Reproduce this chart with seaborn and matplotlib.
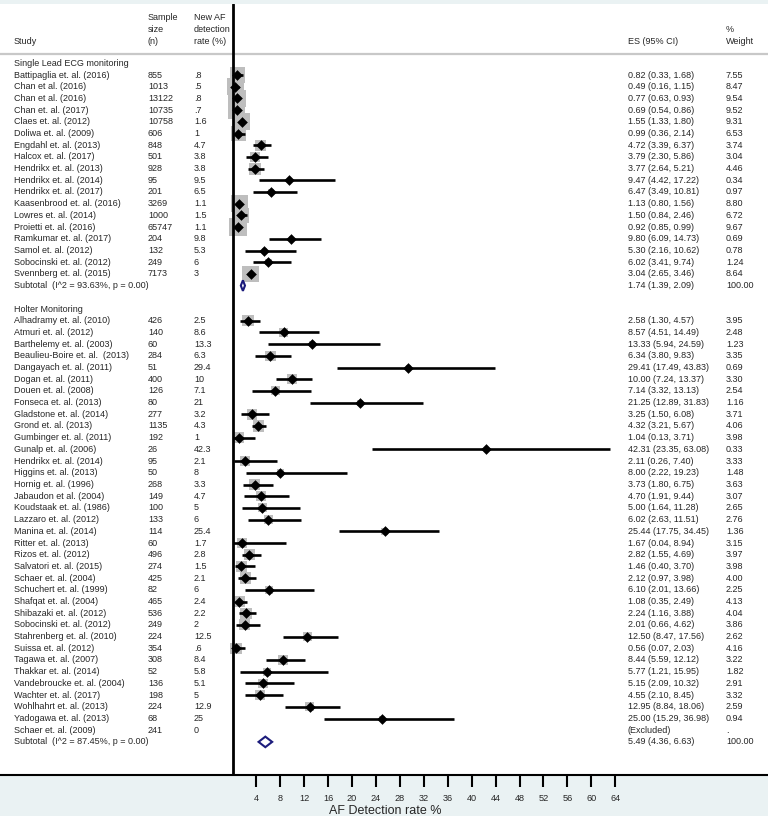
import numpy as np
import pandas as pd
import matplotlib
matplotlib.use("Agg")
import matplotlib.pyplot as plt
import seaborn as sns

# Single lead ECG monitoring
studies1 = ["Battipaglia et. al. (2016)", "Chan et al. (2016)", "Chan et al. (2016)",
            "Chan et. al. (2017)", "Claes et. al. (2012)", "Doliwa et. al. (2009)",
            "Engdahl et. al. (2013)", "Halcox et. al. (2017)", "Hendrikx et. al. (2013)",
            "Hendrikx et. al. (2014)", "Hendrikx et. al. (2017)", "Kaasenbrood et. al. (2016)",
            "Lowres et. al. (2014)", "Proietti et. al. (2016)", "Ramkumar et. al. (2017)",
            "Samol et. al. (2012)", "Sobocinski et. al. (2012)", "Svennberg et. al. (2015)"]
n1 = ["855", "1013", "13122", "10735", "10758", "606", "848", "501", "928", "95", "201",
      "3269", "1000", "65747", "204", "132", "249", "7173"]
rate1 = [".8", ".5", ".8", ".7", "1.6", "1", "4.7", "3.8", "3.8", "9.5", "6.5", "1.1",
         "1.5", "1.1", "9.8", "5.3", "6", "3"]
es1 = [0.82, 0.49, 0.77, 0.69, 1.55, 0.99, 4.72, 3.79, 3.77, 9.47, 6.47, 1.13, 1.50, 0.92,
       9.80, 5.30, 6.02, 3.04]
lo1 = [0.33, 0.16, 0.63, 0.54, 1.33, 0.36, 3.39, 2.30, 2.64, 4.42, 3.49, 0.80, 0.84, 0.85,
       6.09, 2.16, 3.41, 2.65]
hi1 = [1.68, 1.15, 0.93, 0.86, 1.80, 2.14, 6.37, 5.86, 5.21, 17.22, 10.81, 1.56, 2.46, 0.99,
       14.73, 10.62, 9.74, 3.46]
w1 = [7.55, 8.47, 9.54, 9.52, 9.31, 6.53, 3.74, 3.04, 4.46, 0.34, 0.97, 8.80, 6.72, 9.67,
      0.69, 0.78, 1.24, 8.64]
sub1 = (1.74, 1.39, 2.09)
sub1_label = "Subtotal  (I^2 = 93.63%, p = 0.00)"

# Holter monitoring
studies2 = ["Alhadramy et. al. (2010)", "Atmuri et. al. (2012)", "Barthelemy et. al. (2003)",
            "Beaulieu-Boire et. al.  (2013)", "Dangayach et. al. (2011)", "Dogan et. al. (2011)",
            "Douen et. al. (2008)", "Fonseca et. al. (2013)", "Gladstone et. al. (2014)",
            "Grond et. al. (2013)", "Gumbinger et. al. (2011)", "Gunalp et. al. (2006)",
            "Hendrikx et. al. (2014)", "Higgins et. al. (2013)", "Hornig et. al. (1996)",
            "Jabaudon et al. (2004)", "Koudstaak et. al. (1986)", "Lazzaro et. al. (2012)",
            "Manina et. al. (2014)", "Ritter et. al. (2013)", "Rizos et. al. (2012)",
            "Salvatori et. al. (2015)", "Schaer et. al. (2004)", "Schuchert et. al. (1999)",
            "Shafqat et. al. (2004)", "Shibazaki et. al. (2012)", "Sobocinski et. al. (2012)",
            "Stahrenberg et. al. (2010)", "Suissa et. al. (2012)", "Tagawa et. al. (2007)",
            "Thakkar et. al. (2014)", "Vandebroucke et. al. (2004)", "Wachter et. al. (2017)",
            "Wohlhahrt et. al. (2013)", "Yadogawa et. al. (2013)", "Schaer et. al. (2009)"]
n2 = ["426", "140", "60", "284", "51", "400", "126", "80", "277", "1135", "192", "26", "95",
      "50", "268", "149", "100", "133", "114", "60", "496", "274", "425", "82", "465", "536",
      "249", "224", "354", "308", "52", "136", "198", "224", "68", "241"]
rate2 = ["2.5", "8.6", "13.3", "6.3", "29.4", "10", "7.1", "21", "3.2", "4.3", "1", "42.3",
         "2.1", "8", "3.3", "4.7", "5", "6", "25.4", "1.7", "2.8", "1.5", "2.1", "6", "2.4",
         "2.2", "2", "12.5", ".6", "8.4", "5.8", "5.1", "5", "12.9", "25", "0"]
es2 = [2.58, 8.57, 13.33, 6.34, 29.41, 10.00, 7.14, 21.25, 3.25, 4.32, 1.04, 42.31, 2.11,
       8.00, 3.73, 4.70, 5.00, 6.02, 25.44, 1.67, 2.82, 1.46, 2.12, 6.10, 1.08, 2.24, 2.01,
       12.50, 0.56, 8.44, 5.77, 5.15, 4.55, 12.95, 25.00, np.nan]
lo2 = [1.30, 4.51, 5.94, 3.80, 17.49, 7.24, 3.32, 12.89, 1.50, 3.21, 0.13, 23.35, 0.26,
       2.22, 1.80, 1.91, 1.64, 2.63, 17.75, 0.04, 1.55, 0.40, 0.97, 2.01, 0.35, 1.16, 0.66,
       8.47, 0.07, 5.59, 1.21, 2.09, 2.10, 8.84, 15.29, np.nan]
hi2 = [4.57, 14.49, 24.59, 9.83, 43.83, 13.37, 13.13, 31.83, 6.08, 5.67, 3.71, 63.08, 7.40,
       19.23, 6.75, 9.44, 11.28, 11.51, 34.45, 8.94, 4.69, 3.70, 3.98, 13.66, 2.49, 3.88,
       4.62, 17.56, 2.03, 12.12, 15.95, 10.32, 8.45, 18.06, 36.98, np.nan]
w2 = [3.95, 2.48, 1.23, 3.35, 0.69, 3.30, 2.54, 1.16, 3.71, 4.06, 3.98, 0.33, 3.33, 1.48,
      3.63, 3.07, 2.65, 2.76, 1.36, 3.15, 3.97, 3.98, 4.00, 2.25, 4.13, 4.04, 3.86, 2.62,
      4.16, 3.22, 1.82, 2.91, 3.32, 2.59, 0.94, np.nan]
sub2 = (5.49, 4.36, 6.63)
sub2_label = "Subtotal  (I^2 = 87.45%, p = 0.00)"

xticks = list(range(4, 68, 4))

# rows: group header, studies, subtotal, blank, next group...
rows1 = np.arange(len(studies1))
sub1_row = len(studies1)
head2_row = sub1_row + 2
rows2 = head2_row + 1 + np.arange(len(studies2))
sub2_row = rows2[-1] + 1

df = pd.DataFrame({
    "study": studies1 + studies2,
    "n": n1 + n2,
    "rate": rate1 + rate2,
    "es": es1 + es2,
    "lo": lo1 + lo2,
    "hi": hi1 + hi2,
    "w": w1 + w2,
    "row": np.concatenate([rows1, rows2]),
})

sns.set_style("white")
plt.rcParams["font.family"] = ["Liberation Sans", "DejaVu Sans"]

W, H = 768, 816
fig = plt.figure(figsize=(W / 100, H / 100), dpi=100, facecolor="#eaf2f3")
ax_bottom, ax_top = 775, 4
ax = fig.add_axes([0, (H - ax_bottom) / H, 1, (ax_bottom - ax_top) / H])
ax.set_facecolor("white")

# pixel mapping: x0 at 232.5px, 5.98 px per unit; row 0 at 75px, 11.7 px per row
x0, xs = 232.5, 5.98
y0, ys = 75, 11.7
ax.set_xlim(-x0 / xs, (W - x0) / xs)
ax.set_ylim((ax_bottom - y0) / ys, (ax_top - y0) / ys)

pts = df.dropna(subset=["es"])
sns.scatterplot(data=pts, x="es", y="row", size="w", sizes=(0, 165), size_norm=(0, 10),
                marker="s", color="#bebebe", edgecolor="none", legend=False, ax=ax, zorder=2)
ax.hlines(pts["row"], pts["lo"], pts["hi"], color="black", lw=1.9, zorder=3)
sns.scatterplot(data=pts, x="es", y="row", marker="D", s=25, color="black",
                edgecolor="black", legend=False, ax=ax, zorder=4)

# subtotal diamonds
for (est, lo, hi), r in [(sub1, sub1_row), (sub2, sub2_row)]:
    ax.fill([lo, est, hi, est, lo], [r, r - 0.45, r, r + 0.45, r], facecolor="white",
            edgecolor="#1c1c7c", lw=1.5, zorder=4)

ax.axvline(0, color="black", lw=2, zorder=5)
ax.axhline(-1.8, color="#c8c8c8", lw=1.6, clip_on=False)

tr = ax.get_yaxis_transform()
fs = 6.5
cx = dict(study=14 / W, n=148 / W, rate=194 / W, es=628 / W, w=726 / W)

# header
hrow = [(y - y0) / ys for y in (17, 29, 42)]
ax.text(cx["study"], hrow[2], "Study", transform=tr, fontsize=fs, va="center")
for i, t in enumerate(["Sample", "size", "(n)"]):
    ax.text(cx["n"], hrow[i], t, transform=tr, fontsize=fs, va="center")
for i, t in enumerate(["New AF", "detection", "rate (%)"]):
    ax.text(cx["rate"], hrow[i], t, transform=tr, fontsize=fs, va="center")
ax.text(cx["es"], hrow[2], "ES (95% CI)", transform=tr, fontsize=fs, va="center")
ax.text(cx["w"], hrow[1], "%", transform=tr, fontsize=fs, va="center")
ax.text(cx["w"], hrow[2], "Weight", transform=tr, fontsize=fs, va="center")

ax.text(cx["study"], -1, "Single Lead ECG monitoring", transform=tr, fontsize=fs, va="center")
ax.text(cx["study"], head2_row, "Holter Monitoring", transform=tr, fontsize=fs, va="center")

for _, r in df.iterrows():
    ax.text(cx["study"], r["row"], r["study"], transform=tr, fontsize=fs, va="center")
    ax.text(cx["n"], r["row"], r["n"], transform=tr, fontsize=fs, va="center")
    ax.text(cx["rate"], r["row"], r["rate"], transform=tr, fontsize=fs, va="center")
    if np.isnan(r["es"]):
        es_txt, w_txt = "(Excluded)", "."
    else:
        es_txt = f"{r['es']:.2f} ({r['lo']:.2f}, {r['hi']:.2f})"
        w_txt = f"{r['w']:.2f}"
    ax.text(cx["es"], r["row"], es_txt, transform=tr, fontsize=fs, va="center")
    ax.text(cx["w"], r["row"], w_txt, transform=tr, fontsize=fs, va="center")

for lab, (est, lo, hi), r in [(sub1_label, sub1, sub1_row), (sub2_label, sub2, sub2_row)]:
    ax.text(cx["study"], r, lab, transform=tr, fontsize=fs, va="center")
    ax.text(cx["es"], r, f"{est:.2f} ({lo:.2f}, {hi:.2f})", transform=tr, fontsize=fs, va="center")
    ax.text(cx["w"], r, "100.00", transform=tr, fontsize=fs, va="center")

# axes styling
for s in ["top", "right", "left"]:
    ax.spines[s].set_visible(False)
ax.spines["bottom"].set_color("black")
ax.spines["bottom"].set_linewidth(1.5)
ax.set_yticks([])
ax.set_xticks(xticks)
ax.tick_params(axis="x", direction="out", length=8.5, width=1.5, color="black",
               labelsize=6.6, pad=5.5, bottom=True)
ax.set_xlabel("")
ax.set_ylabel("")
fig.text(385 / W, (H - 811) / H, "AF Detection rate %", fontsize=9, ha="center", va="center")

fig.savefig("out.png", dpi=100, facecolor=fig.get_facecolor())
